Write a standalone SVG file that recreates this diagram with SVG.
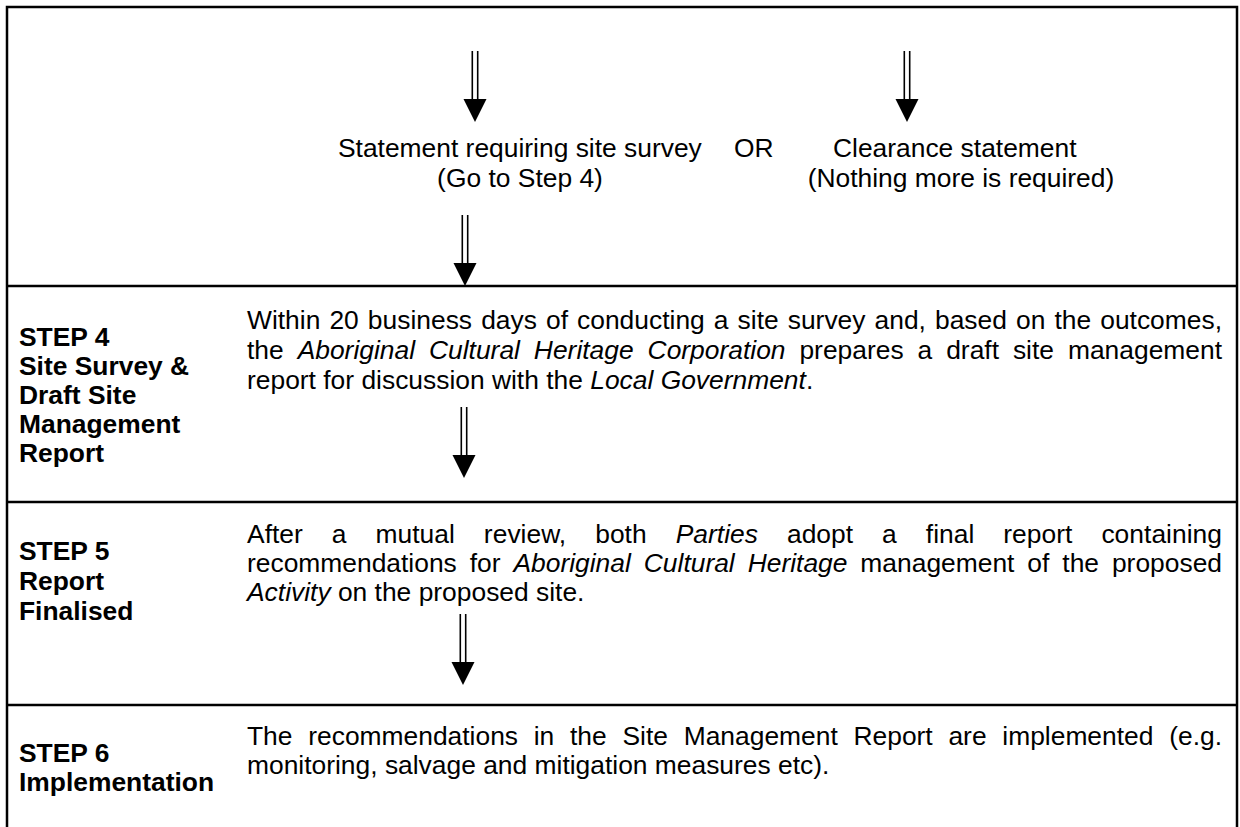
<svg xmlns="http://www.w3.org/2000/svg" width="1240" height="827" viewBox="0 0 1240 827">
<style>
text{font-family:"Liberation Sans",Arial,sans-serif;font-size:26.4px;fill:#000}
.b{font-weight:bold}
.i{font-style:italic}
.ln{stroke:#000;stroke-width:2.5;fill:none}
.sh{stroke:#000;stroke-width:1.6}
</style>
<defs>
<g id="arr">
<line class="sh" x1="-2.7" y1="0" x2="-2.7" y2="49"/>
<line class="sh" x1="2.7" y1="0" x2="2.7" y2="49"/>
<polygon points="-11.5,48 11.5,48 0,71" fill="#000"/>
</g>
</defs>
<rect x="0" y="0" width="1240" height="827" fill="#fff"/>
<g id="frame">
<rect class="ln" x="7" y="7" width="1230" height="840"/>
<line class="ln" x1="7" y1="286" x2="1237" y2="286"/>
<line class="ln" x1="7" y1="502" x2="1237" y2="502"/>
<line class="ln" x1="7" y1="705" x2="1237" y2="705"/>
</g>
<g id="connectors">
<use href="#arr" x="475" y="51"/>
<use href="#arr" x="907" y="51"/>
<use href="#arr" x="465" y="215"/>
<use href="#arr" x="464" y="407"/>
<use href="#arr" x="463" y="614"/>
</g>
<g id="outcome-survey">
<text x="338" y="157">Statement requiring site survey</text>
<text x="520" y="187" text-anchor="middle">(Go to Step 4)</text>
</g>
<g id="or-label">
<text x="734" y="157">OR</text>
</g>
<g id="outcome-clearance">
<text x="833" y="157">Clearance statement</text>
<text x="961" y="187" text-anchor="middle">(Nothing more is required)</text>
</g>
<g id="step4">
<text class="b" x="19" y="346">STEP 4</text>
<text class="b" x="19" y="375">Site Survey &amp;</text>
<text class="b" x="19" y="404">Draft Site</text>
<text class="b" x="19" y="433">Management</text>
<text class="b" x="19" y="462">Report</text>
<text x="247" y="329" textLength="975" lengthAdjust="spacing" word-spacing="1.74">Within 20 business days of conducting a site survey and, based on the outcomes,</text>
<text x="247" y="359" textLength="975" lengthAdjust="spacing" word-spacing="6.6">the <tspan class="i">Aboriginal Cultural Heritage Corporation</tspan> prepares a draft site management</text>
<text x="247" y="389">report for discussion with the <tspan class="i">Local Government</tspan>.</text>
</g>
<g id="step5">
<text class="b" x="19" y="560">STEP 5</text>
<text class="b" x="19" y="590">Report</text>
<text class="b" x="19" y="620">Finalised</text>
<text x="247" y="543" textLength="975" lengthAdjust="spacing" word-spacing="21.6">After a mutual review, both <tspan class="i">Parties</tspan> adopt a final report containing</text>
<text x="247" y="572" textLength="975" lengthAdjust="spacing" word-spacing="5.6">recommendations for <tspan class="i">Aboriginal Cultural Heritage</tspan> management of the proposed</text>
<text x="247" y="601"><tspan class="i">Activity</tspan> on the proposed site.</text>
</g>
<g id="step6">
<text class="b" x="19" y="762">STEP 6</text>
<text class="b" x="19" y="791">Implementation</text>
<text x="247" y="745" textLength="975" lengthAdjust="spacing" word-spacing="8.4">The recommendations in the Site Management Report are implemented (e.g.</text>
<text x="247" y="774">monitoring, salvage and mitigation measures etc).</text>
</g>
</svg>
